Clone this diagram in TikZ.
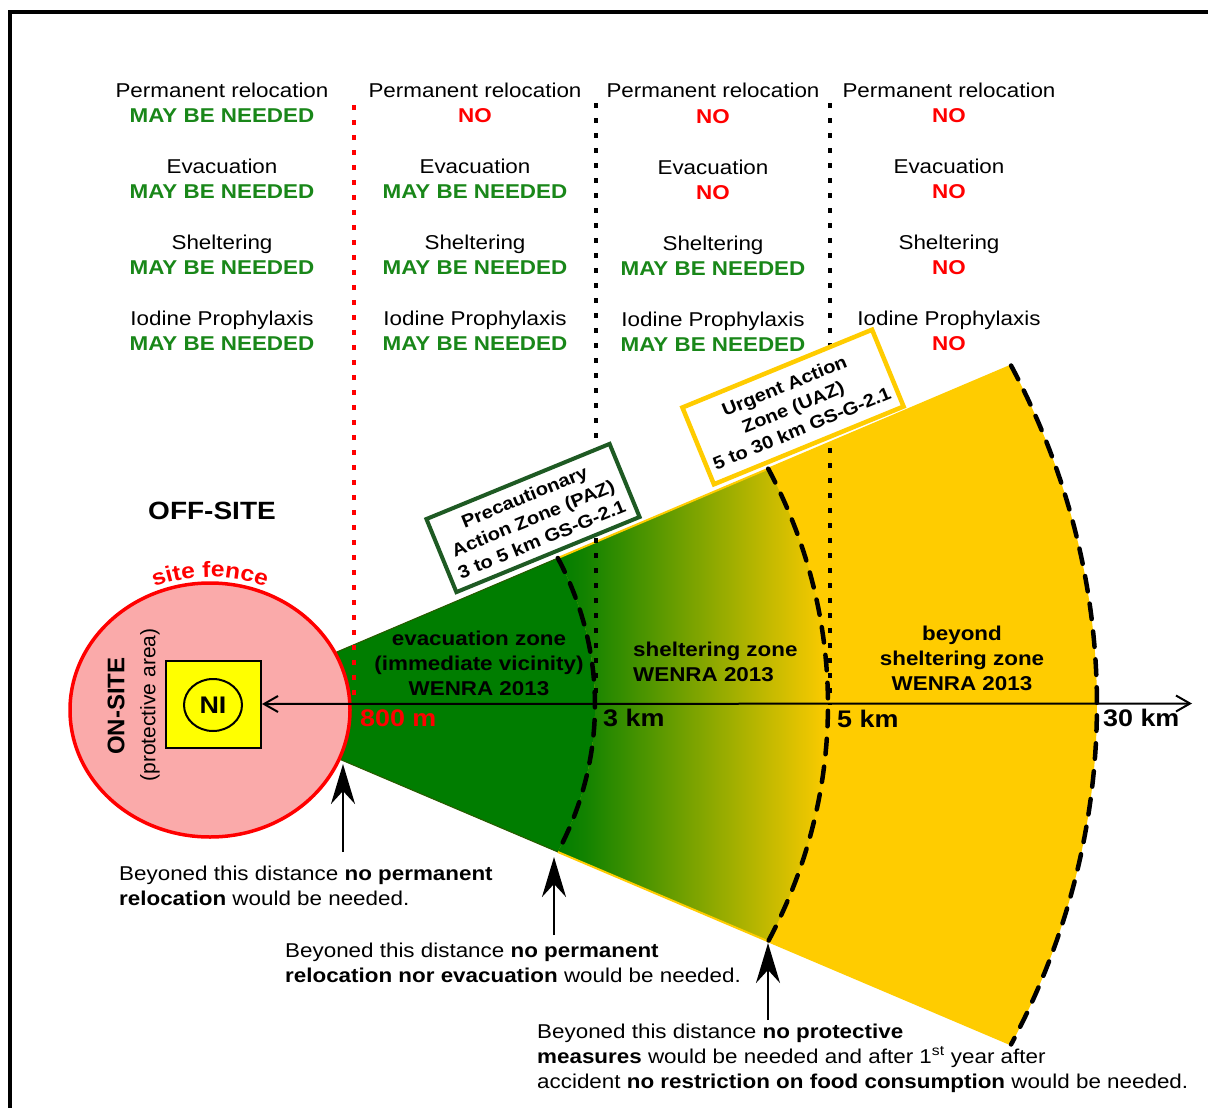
\documentclass[tikz,border=0pt]{standalone}
\usepackage{fontspec}
\setmainfont{Liberation Sans}[FakeStretch=1.12]
\newfontfamily\plainsans{Liberation Sans}
\usetikzlibrary{arrows.meta,calc,shapes.geometric,decorations.text}
\definecolor{fanGreen}{RGB}{0,125,0}
\definecolor{fanYellow}{RGB}{255,204,0}
\definecolor{mayGreen}{RGB}{25,135,25}
\definecolor{pazGreen}{RGB}{30,90,35}
\definecolor{sitePink}{RGB}{250,170,170}
\definecolor{niYellow}{RGB}{255,255,0}
\definecolor{edgeGreen}{RGB}{40,90,0}
\newcommand\fsz[2]{\fontsize{#1pt}{#2pt}\selectfont}
\pgfdeclarehorizontalshading{zoneshade}{100bp}{color(0bp)=(fanGreen); color(25bp)=(fanGreen); color(30bp)=(fanGreen!92!fanYellow); color(72bp)=(fanYellow); color(100bp)=(fanYellow)}
\begin{document}
\begin{tikzpicture}[x=1pt,y=-1pt,
  hdr/.style={anchor=base, inner sep=0pt, font=\fsz{20}{24}},
  may/.style={anchor=base, inner sep=0pt, text=mayGreen, font=\fsz{20}{24}\bfseries},
  nope/.style={anchor=base, inner sep=0pt, text=red, font=\fsz{20}{24}\bfseries},
  zone/.style={anchor=base, inner sep=0pt, font=\fsz{20}{24}\bfseries},
  kmlab/.style={anchor=base west, inner sep=0pt, font=\fsz{24}{24}\bfseries},
  note/.style={anchor=base west, inner sep=0pt, font=\fsz{20}{25}},
  dotline/.style={line width=4.5pt, dash pattern=on 4.5pt off 10.5pt},
  dasharc/.style={line width=4.5pt, line cap=round, dash pattern=on 15.5pt off 12.5pt},
  uparrow/.style={line width=2.5pt, -{Stealth[length=40pt,width=24pt,inset=13pt]}},
  zonebox/.style={line width=4pt, fill=white, rotate=22.3, inner sep=0pt, align=center, font=\fsz{18}{23}\bfseries}
]
\useasboundingbox (0,0) rectangle (1208,1108);
\fill[white] (0,0) rectangle (1208,1108);
% frame
\draw[line width=4.5pt] (10,1112) -- (10,12) -- (1212,12);

% fan geometry
\coordinate (A) at (212,705);
\coordinate (top3) at ($(A)+(25.45:383pt and 342pt)$);
\coordinate (bot3) at ($(A)+(-25.45:383pt and 342pt)$);
\coordinate (top5) at ($(A)+(25.45:616pt and 550pt)$);
\coordinate (bot5) at ($(A)+(-25.45:616pt and 550pt)$);
\coordinate (top30) at ($(A)+(25.45:885pt and 790pt)$);
\coordinate (bot30) at ($(A)+(-25.45:885pt and 790pt)$);

\fill[fanYellow] (A) -- (top30) arc[start angle=25.45, end angle=-25.45, x radius=885pt, y radius=790pt] -- cycle;
\shade[shading=zoneshade] (top3) -- (top5) arc[start angle=25.45, end angle=-25.45, x radius=616pt, y radius=550pt] -- (bot3) arc[start angle=-25.45, end angle=25.45, x radius=383pt, y radius=342pt] -- cycle;
\fill[fanGreen] (A) -- (top3) arc[start angle=25.45, end angle=-25.45, x radius=383pt, y radius=342pt] -- cycle;
\draw[fanYellow, line width=2pt] (top3) -- (top30);
\draw[fanYellow, line width=2pt] (bot3) -- (bot30);
\draw[edgeGreen, line width=1pt] (A) -- (top3);
\draw[edgeGreen, line width=1pt] (A) -- (bot3);

% dashed arcs
\draw[dasharc] (top3) arc[start angle=25.45, end angle=-25.45, x radius=383pt, y radius=342pt];
\draw[dasharc] (top5) arc[start angle=25.45, end angle=-25.45, x radius=616pt, y radius=550pt];
\draw[dasharc] (top30) arc[start angle=25.45, end angle=-25.45, x radius=885pt, y radius=790pt];

% site
\node[ellipse, draw=red, line width=3.5pt, fill=sitePink, minimum width=280pt, minimum height=254pt, inner sep=0pt] (site) at (210,710) {};
\path[decorate, decoration={text along path, text={|\fsz{22}{22}\bfseries|site fence}, text align=center, text color=red}]
  ($(site.center)+(130:146pt and 133pt)$) arc[start angle=130, end angle=50, x radius=146pt, y radius=133pt];
\node[rotate=90, inner sep=0pt, font=\plainsans\fsz{24}{24}\bfseries] (onsite) at (116,706) {ON-SITE};
\node[rotate=90, inner sep=0pt, font=\plainsans\fsz{21}{21}] (prot) at (150,705) {(protective area)};
\node[draw, line width=2pt, fill=niYellow, minimum width=95pt, minimum height=87pt, inner sep=0pt] (sq) at (213.5,704) {};
\node[ellipse, draw, line width=2pt, minimum width=58pt, minimum height=52pt, inner sep=0pt, font=\fsz{24}{24}\bfseries] (ni) at (213,705) {NI};

% dotted separators
\draw[dotline, red] (354,105) -- (354,697);
\draw[dotline] (596,103) -- (596,700);
\draw[dotline] (830,103) -- (830,705);

% zone boxes
\node[zonebox, draw=pazGreen, minimum width=198pt, minimum height=79pt] (paz) at (533,518) {Precautionary\\Action Zone (PAZ)\\3 to 5 km GS-G-2.1};
\node[zonebox, draw=fanYellow, line width=4.5pt, minimum width=205pt, minimum height=83pt] (uaz) at (793,407) {Urgent Action\\Zone (UAZ)\\5 to 30 km GS-G-2.1};

% axis
\coordinate (axend) at (1192,703.5);
\draw[line width=2pt, {Straight Barb[length=14pt,width=16pt]}-{Straight Barb[length=14pt,width=16pt]}] (sq.east) -- (axend);

% distance labels
\node[kmlab, text=red] (d800) at (360,726) {800 m};
\node[kmlab] (d3) at (603,726) {3 km};
\node[kmlab] (d5) at (837,727) {5 km};
\node[kmlab] (d30) at (1103,726) {30 km};

% zone labels
\node[zone] (z1a) at (479,645) {evacuation zone};
\node[zone] (z1b) at (479,670) {(immediate vicinity)};
\node[zone] (z1c) at (479,695) {WENRA 2013};
\node[zone, anchor=base west] (z2a) at (633,656) {sheltering zone};
\node[zone, anchor=base west] (z2b) at (633,681) {WENRA 2013};
\node[zone] (z3a) at (962,640) {beyond};
\node[zone] (z3b) at (962,665) {sheltering zone};
\node[zone] (z3c) at (962,690) {WENRA 2013};

\node[inner sep=0pt, font=\fsz{25}{25}\bfseries] (offsite) at (212,511) {OFF-SITE};

% column 1
\node[hdr] (c1a) at (222,97) {Permanent relocation};
\node[may] (c1b) at (222,122) {MAY BE NEEDED};
\node[hdr] (c1c) at (222,173) {Evacuation};
\node[may] (c1d) at (222,198) {MAY BE NEEDED};
\node[hdr] (c1e) at (222,249) {Sheltering};
\node[may] (c1f) at (222,274) {MAY BE NEEDED};
\node[hdr] (c1g) at (222,325) {Iodine Prophylaxis};
\node[may] (c1h) at (222,350) {MAY BE NEEDED};
% column 2
\node[hdr] (c2a) at (475,97) {Permanent relocation};
\node[nope] (c2b) at (475,122) {NO};
\node[hdr] (c2c) at (475,173) {Evacuation};
\node[may] (c2d) at (475,198) {MAY BE NEEDED};
\node[hdr] (c2e) at (475,249) {Sheltering};
\node[may] (c2f) at (475,274) {MAY BE NEEDED};
\node[hdr] (c2g) at (475,325) {Iodine Prophylaxis};
\node[may] (c2h) at (475,350) {MAY BE NEEDED};
% column 3
\node[hdr] (c3a) at (713,98) {Permanent relocation};
\node[nope] (c3b) at (713,123) {NO};
\node[hdr] (c3c) at (713,174) {Evacuation};
\node[nope] (c3d) at (713,199) {NO};
\node[hdr] (c3e) at (713,250) {Sheltering};
\node[may] (c3f) at (713,275) {MAY BE NEEDED};
\node[hdr] (c3g) at (713,326) {Iodine Prophylaxis};
\node[may] (c3h) at (713,351) {MAY BE NEEDED};
% column 4
\node[hdr] (c4a) at (949,97) {Permanent relocation};
\node[nope] (c4b) at (949,122) {NO};
\node[hdr] (c4c) at (949,173) {Evacuation};
\node[nope] (c4d) at (949,198) {NO};
\node[hdr] (c4e) at (949,249) {Sheltering};
\node[nope] (c4f) at (949,274) {NO};
\node[hdr] (c4g) at (949,325) {Iodine Prophylaxis};
\node[nope] (c4h) at (949,350) {NO};

% annotations
\node[note] (n1a) at (119,880) {Beyoned this distance \textbf{no permanent}};
\node[note] (n1b) at (119,905) {\textbf{relocation} would be needed.};
\node[note] (n2a) at (285,957) {Beyoned this distance \textbf{no permanent}};
\node[note] (n2b) at (285,982) {\textbf{relocation nor evacuation} would be needed.};
\node[note] (n3a) at (537,1038) {Beyoned this distance \textbf{no protective}};
\node[note] (n3b) at (537,1063) {\textbf{measures} would be needed and after 1\textsuperscript{st} year after};
\node[note] (n3c) at (537,1088) {accident \textbf{no restriction on food consumption} would be needed.};

\coordinate (s1) at (343,852);
\coordinate (t1) at (343,764);
\coordinate (s2) at (554,935);
\coordinate (t2) at (554,857);
\coordinate (s3) at (768,1020);
\coordinate (t3) at (768,943);
\draw[uparrow] (s1) -- (t1);
\draw[uparrow] (s2) -- (t2);
\draw[uparrow] (s3) -- (t3);
\end{tikzpicture}
\end{document}
